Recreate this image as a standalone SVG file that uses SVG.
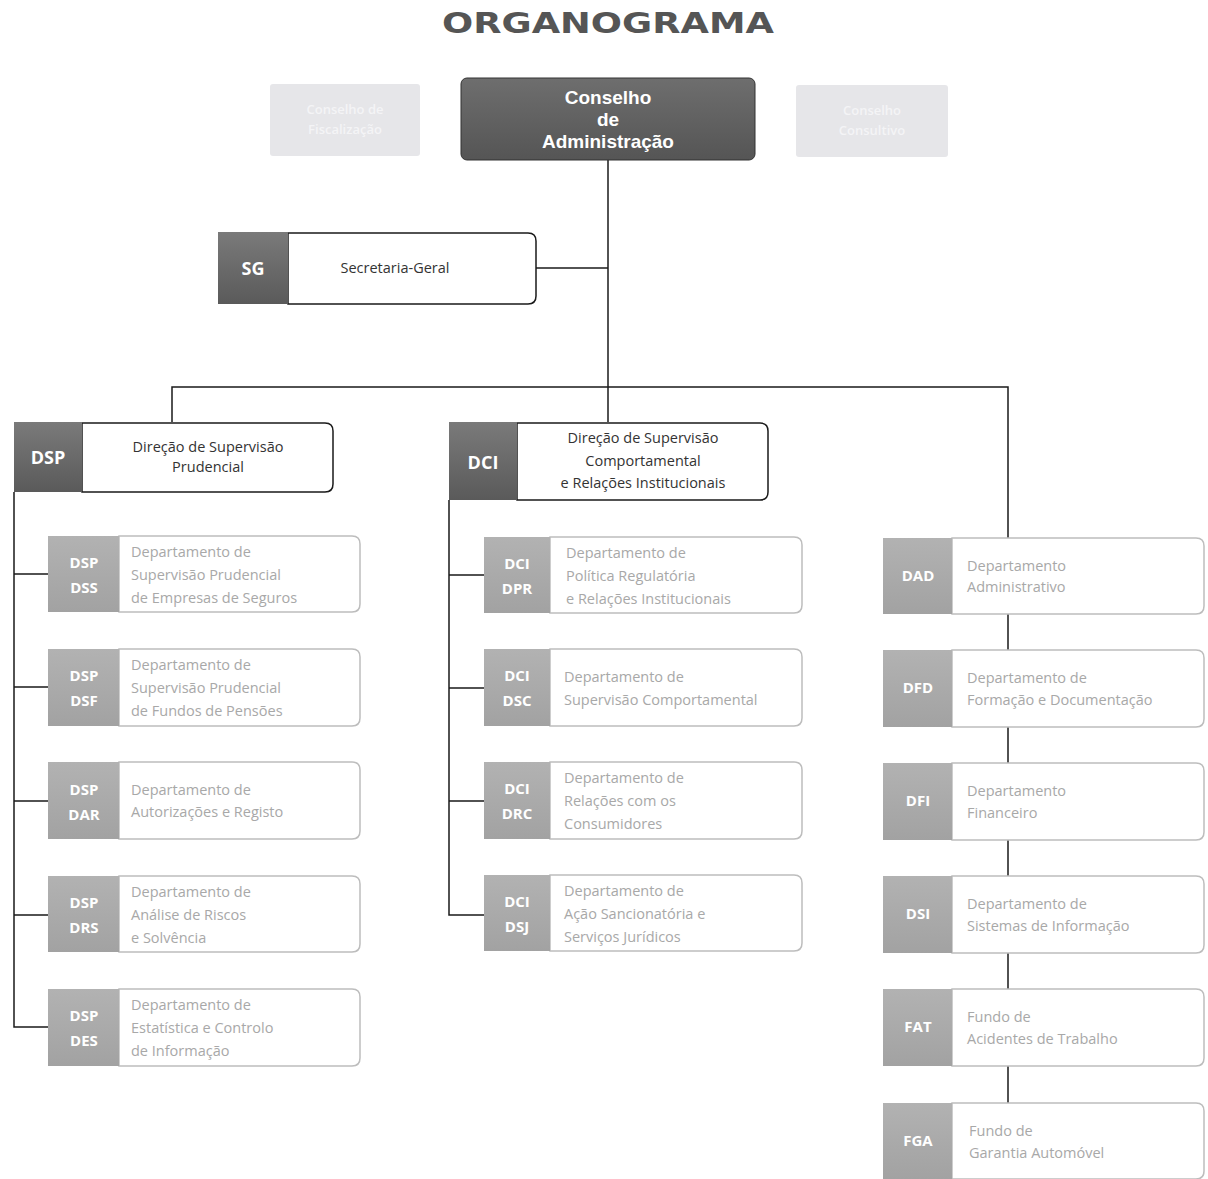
<svg xmlns="http://www.w3.org/2000/svg" width="1208" height="1179" viewBox="0 0 1208 1179">
<defs>
<linearGradient id="gHead" x1="0" y1="0" x2="0" y2="1"><stop offset="0" stop-color="#7a7a7a"/><stop offset="1" stop-color="#5a5a5a"/></linearGradient>
<linearGradient id="gSub" x1="0" y1="0" x2="0" y2="1"><stop offset="0" stop-color="#b2b2b2"/><stop offset="1" stop-color="#a2a2a2"/></linearGradient>
<linearGradient id="gTop" x1="0" y1="0" x2="0" y2="1"><stop offset="0" stop-color="#6e6e6e"/><stop offset="1" stop-color="#555"/></linearGradient>
<style>
.title{font-family:"DejaVu Sans","Liberation Sans",sans-serif;font-weight:700;font-size:29px;fill:#555}
.top{font-family:"Liberation Sans",Arial,sans-serif;font-weight:700;font-size:19px;fill:#fff;text-anchor:middle}
.faint{font-family:"Open Sans","Liberation Sans",sans-serif;font-weight:600;font-size:13px;fill:#f4f4f6;text-anchor:middle}
.fbox{fill:#e6e6e9}
.hwhite{fill:#fff;stroke:#1a1a1a;stroke-width:1.5}
.hdark{fill:url(#gHead)}
.hcode{font-family:"Open Sans","Liberation Sans",sans-serif;font-weight:700;font-size:18px;fill:#fff;text-anchor:middle}
.htext{font-family:"Open Sans","Liberation Sans",sans-serif;font-size:14.5px;fill:#333;text-anchor:middle}
.swhite{fill:#fff;stroke:#bdbdbd;stroke-width:1.5}
.sdark{fill:url(#gSub)}
.scode{font-family:"Open Sans","Liberation Sans",sans-serif;font-weight:700;font-size:15px;fill:#fff;text-anchor:middle}
.stext{font-family:"Open Sans","Liberation Sans",sans-serif;font-size:14.5px;fill:#a8a8a8}
.conn{fill:none;stroke:#1a1a1a;stroke-width:1.5}
</style>
</defs>
<rect width="1208" height="1179" fill="#fff"/>
<text class="title" x="442" y="33" textLength="332" lengthAdjust="spacingAndGlyphs">ORGANOGRAMA</text>

<g id="connectors">
<path class="conn" d="M608,160 V422"/>
<path class="conn" d="M536,268 H608"/>
<path class="conn" d="M172,422 V387 H1008 V538"/>
<path class="conn" d="M14,492 V1027 H48 M14,574 H48 M14,687 H48 M14,801 H48 M14,915 H48"/>
<path class="conn" d="M449,500 V915 H484 M449,575 H484 M449,688 H484 M449,801 H484"/>
<path class="conn" d="M1008,614 V650 M1008,727 V763 M1008,840 V876 M1008,953 V989 M1008,1066 V1103"/>
</g>

<g id="node-fiscalizacao">
<rect class="fbox" x="270" y="84" width="150" height="72" rx="3"/>
<text class="faint" x="345" y="114">Conselho de</text>
<text class="faint" x="345" y="134">Fiscalização</text>
</g>
<g id="node-conselho-admin">
<rect x="461" y="78" width="294" height="82" rx="6" fill="url(#gTop)" stroke="#333" stroke-width="1"/>
<text class="top" x="608" y="104">Conselho</text>
<text class="top" x="608" y="126">de</text>
<text class="top" x="608" y="148">Administração</text>
</g>
<g id="node-consultivo">
<rect class="fbox" x="796" y="85" width="152" height="72" rx="3"/>
<text class="faint" x="872" y="115">Conselho</text>
<text class="faint" x="872" y="135">Consultivo</text>
</g>

<g id="node-SG">
<path class="hwhite" d="M288,233 H528 Q536,233 536,241 V296 Q536,304 528,304 H288 Z"/>
<rect class="hdark" x="218" y="232" width="70" height="72"/>
<text class="hcode" x="253" y="275">SG</text>
<text class="htext" x="395" y="273">Secretaria-Geral</text>
</g>

<g id="node-DSP">
<path class="hwhite" d="M82,423 H325 Q333,423 333,431 V484 Q333,492 325,492 H82 Z"/>
<rect class="hdark" x="14" y="422" width="68" height="70"/>
<text class="hcode" x="48" y="464">DSP</text>
<text class="htext" x="208" y="452">Direção de Supervisão</text>
<text class="htext" x="208" y="472">Prudencial</text>
</g>

<g id="node-DCI">
<path class="hwhite" d="M517,423 H760 Q768,423 768,431 V492 Q768,500 760,500 H517 Z"/>
<rect class="hdark" x="449" y="422" width="68" height="78"/>
<text class="hcode" x="483" y="469">DCI</text>
<text class="htext" x="643" y="443">Direção de Supervisão</text>
<text class="htext" x="643" y="466">Comportamental</text>
<text class="htext" x="643" y="488">e Relações Institucionais</text>
</g>

<!-- Left column -->
<g id="node-DSS">
<path class="swhite" d="M119,536 H352 Q360,536 360,544 V604 Q360,612 352,612 H119 Z"/>
<rect class="sdark" x="48" y="536" width="71" height="76"/>
<text class="scode" x="84" y="568">DSP</text><text class="scode" x="84" y="593">DSS</text>
<text class="stext" x="131" y="557">Departamento de</text>
<text class="stext" x="131" y="580">Supervisão Prudencial</text>
<text class="stext" x="131" y="603">de Empresas de Seguros</text>
</g>
<g id="node-DSF">
<path class="swhite" d="M119,649 H352 Q360,649 360,657 V718 Q360,726 352,726 H119 Z"/>
<rect class="sdark" x="48" y="649" width="71" height="77"/>
<text class="scode" x="84" y="681">DSP</text><text class="scode" x="84" y="706">DSF</text>
<text class="stext" x="131" y="670">Departamento de</text>
<text class="stext" x="131" y="693">Supervisão Prudencial</text>
<text class="stext" x="131" y="716">de Fundos de Pensões</text>
</g>
<g id="node-DAR">
<path class="swhite" d="M119,762 H352 Q360,762 360,770 V831 Q360,839 352,839 H119 Z"/>
<rect class="sdark" x="48" y="762" width="71" height="77"/>
<text class="scode" x="84" y="795">DSP</text><text class="scode" x="84" y="820">DAR</text>
<text class="stext" x="131" y="795">Departamento de</text>
<text class="stext" x="131" y="817">Autorizações e Registo</text>
</g>
<g id="node-DRS">
<path class="swhite" d="M119,876 H352 Q360,876 360,884 V944 Q360,952 352,952 H119 Z"/>
<rect class="sdark" x="48" y="876" width="71" height="76"/>
<text class="scode" x="84" y="908">DSP</text><text class="scode" x="84" y="933">DRS</text>
<text class="stext" x="131" y="897">Departamento de</text>
<text class="stext" x="131" y="920">Análise de Riscos</text>
<text class="stext" x="131" y="943">e Solvência</text>
</g>
<g id="node-DES">
<path class="swhite" d="M119,989 H352 Q360,989 360,997 V1058 Q360,1066 352,1066 H119 Z"/>
<rect class="sdark" x="48" y="989" width="71" height="77"/>
<text class="scode" x="84" y="1021">DSP</text><text class="scode" x="84" y="1046">DES</text>
<text class="stext" x="131" y="1010">Departamento de</text>
<text class="stext" x="131" y="1033">Estatística e Controlo</text>
<text class="stext" x="131" y="1056">de Informação</text>
</g>

<!-- Middle column -->
<g id="node-DPR">
<path class="swhite" d="M550,537 H794 Q802,537 802,545 V605 Q802,613 794,613 H550 Z"/>
<rect class="sdark" x="484" y="537" width="66" height="76"/>
<text class="scode" x="517" y="569">DCI</text><text class="scode" x="517" y="594">DPR</text>
<text class="stext" x="566" y="558">Departamento de</text>
<text class="stext" x="566" y="581">Política Regulatória</text>
<text class="stext" x="566" y="604">e Relações Institucionais</text>
</g>
<g id="node-DSC">
<path class="swhite" d="M550,649 H794 Q802,649 802,657 V718 Q802,726 794,726 H550 Z"/>
<rect class="sdark" x="484" y="649" width="66" height="77"/>
<text class="scode" x="517" y="681">DCI</text><text class="scode" x="517" y="706">DSC</text>
<text class="stext" x="564" y="682">Departamento de</text>
<text class="stext" x="564" y="705">Supervisão Comportamental</text>
</g>
<g id="node-DRC">
<path class="swhite" d="M550,762 H794 Q802,762 802,770 V831 Q802,839 794,839 H550 Z"/>
<rect class="sdark" x="484" y="762" width="66" height="77"/>
<text class="scode" x="517" y="794">DCI</text><text class="scode" x="517" y="819">DRC</text>
<text class="stext" x="564" y="783">Departamento de</text>
<text class="stext" x="564" y="806">Relações com os</text>
<text class="stext" x="564" y="829">Consumidores</text>
</g>
<g id="node-DSJ">
<path class="swhite" d="M550,875 H794 Q802,875 802,883 V943 Q802,951 794,951 H550 Z"/>
<rect class="sdark" x="484" y="875" width="66" height="76"/>
<text class="scode" x="517" y="907">DCI</text><text class="scode" x="517" y="932">DSJ</text>
<text class="stext" x="564" y="896">Departamento de</text>
<text class="stext" x="564" y="919">Ação Sancionatória e</text>
<text class="stext" x="564" y="942">Serviços Jurídicos</text>
</g>

<!-- Right column -->
<g id="node-DAD">
<path class="swhite" d="M952,538 H1196 Q1204,538 1204,546 V606 Q1204,614 1196,614 H952 Z"/>
<rect class="sdark" x="883" y="538" width="69" height="76"/>
<text class="scode" x="918" y="581">DAD</text>
<text class="stext" x="967" y="571">Departamento</text>
<text class="stext" x="967" y="592">Administrativo</text>
</g>
<g id="node-DFD">
<path class="swhite" d="M952,650 H1196 Q1204,650 1204,658 V719 Q1204,727 1196,727 H952 Z"/>
<rect class="sdark" x="883" y="650" width="69" height="77"/>
<text class="scode" x="918" y="693">DFD</text>
<text class="stext" x="967" y="683">Departamento de</text>
<text class="stext" x="967" y="705">Formação e Documentação</text>
</g>
<g id="node-DFI">
<path class="swhite" d="M952,763 H1196 Q1204,763 1204,771 V832 Q1204,840 1196,840 H952 Z"/>
<rect class="sdark" x="883" y="763" width="69" height="77"/>
<text class="scode" x="918" y="806">DFI</text>
<text class="stext" x="967" y="796">Departamento</text>
<text class="stext" x="967" y="818">Financeiro</text>
</g>
<g id="node-DSI">
<path class="swhite" d="M952,876 H1196 Q1204,876 1204,884 V945 Q1204,953 1196,953 H952 Z"/>
<rect class="sdark" x="883" y="876" width="69" height="77"/>
<text class="scode" x="918" y="919">DSI</text>
<text class="stext" x="967" y="909">Departamento de</text>
<text class="stext" x="967" y="931">Sistemas de Informação</text>
</g>
<g id="node-FAT">
<path class="swhite" d="M952,989 H1196 Q1204,989 1204,997 V1058 Q1204,1066 1196,1066 H952 Z"/>
<rect class="sdark" x="883" y="989" width="69" height="77"/>
<text class="scode" x="918" y="1032">FAT</text>
<text class="stext" x="967" y="1022">Fundo de</text>
<text class="stext" x="967" y="1044">Acidentes de Trabalho</text>
</g>
<g id="node-FGA">
<path class="swhite" d="M952,1103 H1196 Q1204,1103 1204,1111 V1171 Q1204,1179 1196,1179 H952 Z"/>
<rect class="sdark" x="883" y="1103" width="69" height="76"/>
<text class="scode" x="918" y="1146">FGA</text>
<text class="stext" x="969" y="1136">Fundo de</text>
<text class="stext" x="969" y="1158">Garantia Automóvel</text>
</g>
</svg>
